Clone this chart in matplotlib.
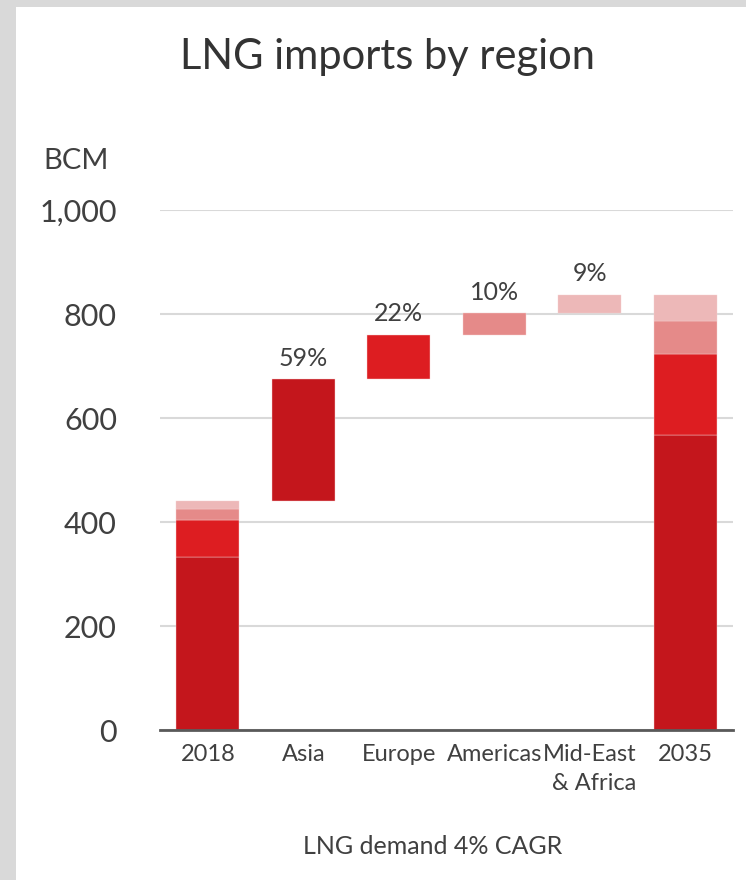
import numpy as np
import matplotlib.pyplot as plt
from matplotlib.patches import Rectangle

plt.rcParams["font.family"] = ["Lato", "DejaVu Sans"]

# data (BCM)
regions = ["Asia", "Europe", "Americas", "Mid-East\n& Africa"]
imports_2018 = [333, 71, 21, 15]
growth = [235, 85, 41, 36]
growth_share = ["59%", "22%", "10%", "9%"]
categories = ["2018"] + regions + ["2035"]

colors = ["#C4161C", "#DD1D21", "#E58A89", "#EDB8B8"]
text_col = "#404040"


def main():
    fig = plt.figure(figsize=(7.46, 8.8), dpi=100)
    fig.patch.set_facecolor("#D9D9D9")
    fig.patches.append(Rectangle((16 / 746, 0), 1, 1 - 7 / 880, transform=fig.transFigure,
                                 facecolor="white", edgecolor="none", zorder=-10))

    ax = fig.add_axes([160 / 746, 1 - 730 / 880, 573 / 746, 520 / 880])
    ax.set_facecolor("none")

    x = np.arange(len(categories))
    width = 0.66
    imports_2035 = [a + b for a, b in zip(imports_2018, growth)]

    # stacked 2018 and 2035 bars
    bottom18 = 0
    bottom35 = 0
    for i in range(len(regions)):
        ax.bar(x[0], imports_2018[i], width, bottom=bottom18, color=colors[i],
               edgecolor="#F6D0D0", linewidth=0.3, zorder=3)
        ax.bar(x[-1], imports_2035[i], width, bottom=bottom35, color=colors[i],
               edgecolor="#F6D0D0", linewidth=0.3, zorder=3)
        bottom18 += imports_2018[i]
        bottom35 += imports_2035[i]

    # waterfall of growth
    level = sum(imports_2018)
    for i in range(len(regions)):
        ax.bar(x[i + 1], growth[i], width, bottom=level, color=colors[i],
               edgecolor="#F6D0D0", linewidth=0.3, zorder=3)
        ax.text(x[i + 1], level + growth[i] + 18, growth_share[i], ha="center", va="bottom",
                fontsize=18, color=text_col)
        level += growth[i]

    ax.set_xlim(-0.5, 5.5)
    ax.set_ylim(0, 1000)
    ax.set_yticks(np.arange(0, 1001, 200))
    ax.set_yticklabels(["0", "200", "400", "600", "800", "1,000"])
    ax.set_xticks(x)
    ax.set_xticklabels(categories)
    for lbl in ax.get_xticklabels():
        lbl.set_multialignment("right")
        lbl.set_linespacing(1.45)

    ax.tick_params(axis="y", length=0, pad=31, labelsize=22, labelcolor=text_col)
    ax.tick_params(axis="x", length=0, pad=10, labelsize=17, labelcolor=text_col)
    ax.grid(axis="y", color="#D9D9D9", linewidth=1.5, zorder=0)
    for side in ["top", "right", "left"]:
        ax.spines[side].set_visible(False)
    ax.spines["bottom"].set_color("#595959")
    ax.spines["bottom"].set_linewidth(2)
    ax.spines["bottom"].set_zorder(4)

    fig.text(388 / 746, 1 - 57 / 880, "LNG imports by region", ha="center", va="center",
             fontsize=30, color="#333333")
    fig.text(43 / 746, 1 - 161 / 880, "BCM", ha="left", va="center", fontsize=21, color=text_col)
    fig.text(433 / 746, 1 - 846 / 880, "LNG demand 4% CAGR", ha="center", va="center",
             fontsize=18, color=text_col)

    fig.savefig("out.png", dpi=100, facecolor=fig.get_facecolor())


if __name__ == "__main__":
    main()
